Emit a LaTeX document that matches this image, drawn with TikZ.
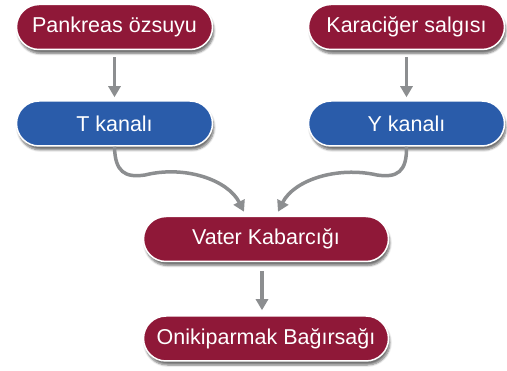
\documentclass[tikz,border=0pt]{standalone}
\usepackage{fontspec}
\setmainfont{Liberation Sans}
\usetikzlibrary{arrows.meta,shadows.blur}
\definecolor{bordo}{HTML}{8F1838}
\definecolor{mavi}{HTML}{2A5CAA}
\definecolor{okgri}{HTML}{8C8E90}
\tikzset{
    kutu/.style={rectangle, rounded corners=22.5pt, draw=white, line width=1.5pt,
        minimum width=196pt, minimum height=45pt, text=white,
        font=\fontsize{21.5}{25}\selectfont,
        blur shadow={shadow xshift=1.5pt, shadow yshift=-4pt, shadow blur steps=6, shadow opacity=55}},
    kirmizikutu/.style={kutu, fill=bordo},
    mavikutu/.style={kutu, fill=mavi},
    okstil/.style={draw=okgri, line width=3.5pt, -{Triangle[width=12pt,length=11pt]}}
}
\begin{document}
\begin{tikzpicture}[x=1pt,y=-1pt]
    \useasboundingbox (0,0) rectangle (507,371);
    \node[kirmizikutu] (P) at (114.5,27) {Pankreas özsuyu};
    \node[kirmizikutu] (K) at (406.5,27) {Karaciğer salgısı};
    \node[mavikutu] (T) at (114.5,123.5) {T kanalı\hspace{28pt}};
    \node[mavikutu] (Y) at (406.5,123.5) {Y kanalı};
    \node[kirmizikutu, minimum width=245pt] (V) at (266,239) {Vater Kabarcığı};
    \node[kirmizikutu, minimum width=245pt] (O) at (266,338.5) {Onikiparmak Bağırsağı};
    \draw[okstil, shorten <=7pt, shorten >=3pt] (P) -- (T);
    \draw[okstil, shorten <=7pt, shorten >=3pt] (K) -- (Y);
    \draw[okstil] (T.south) .. controls (115,172) and (125,178) .. (145,175)
        .. controls (185,165) and (228,180) .. ([xshift=-22pt,yshift=4pt]V.north);
    \draw[okstil] (Y.south) .. controls (407,172) and (397,178) .. (377,175)
        .. controls (337,166) and (294,180) .. ([xshift=12pt,yshift=4pt]V.north);
    \draw[okstil, shorten <=9pt, shorten >=5pt] ([xshift=-4pt]V.south) -- ([xshift=-4pt]O.north);
\end{tikzpicture}
\end{document}
